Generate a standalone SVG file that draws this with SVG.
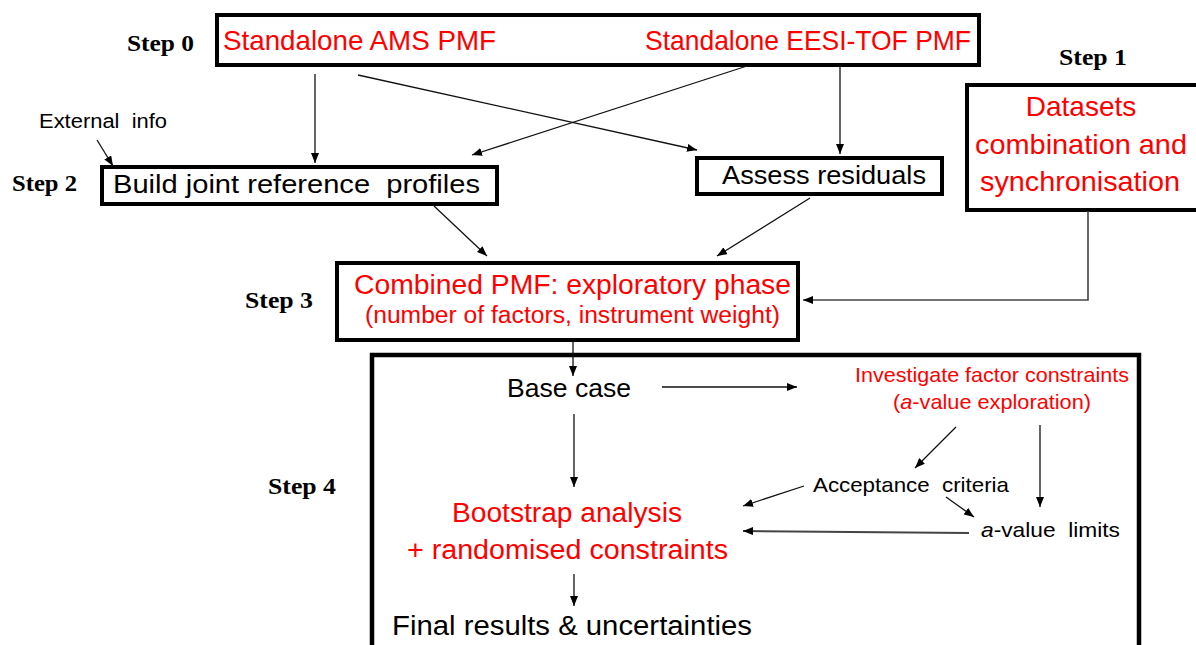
<svg xmlns="http://www.w3.org/2000/svg" width="1196" height="645" viewBox="0 0 1196 645">
<style>
.box{fill:#fff;stroke:#000;stroke-width:4}
.step{font-family:"Liberation Serif",serif;font-weight:bold;font-size:24px;fill:#000}
.t{font-family:"Liberation Sans",Arial,sans-serif;fill:#000}
.r{fill:#ff0000}
.c{fill:none;stroke:#111;stroke-width:1.3}
</style>
<defs>
<marker id="ah" viewBox="0 0 10 8" refX="10" refY="4" markerWidth="10" markerHeight="8" markerUnits="userSpaceOnUse" orient="auto">
<path d="M0,0 L10,4 L0,8 z" fill="#000"/>
</marker>
</defs>
<rect width="1196" height="645" fill="#fff"/>

<g id="step-labels">
<text class="step" x="127" y="51" textLength="67" lengthAdjust="spacingAndGlyphs">Step 0</text>
<text class="step" x="1059" y="65" textLength="68" lengthAdjust="spacingAndGlyphs">Step 1</text>
<text class="step" x="12" y="191" textLength="65" lengthAdjust="spacingAndGlyphs">Step 2</text>
<text class="step" x="245" y="308" textLength="68" lengthAdjust="spacingAndGlyphs">Step 3</text>
<text class="step" x="268" y="494" textLength="68" lengthAdjust="spacingAndGlyphs">Step 4</text>
</g>

<g id="standalone">
<rect class="box" x="217" y="15" width="762" height="50"/>
<text class="t r" x="223" y="50" font-size="28" textLength="273" lengthAdjust="spacingAndGlyphs">Standalone AMS PMF</text>
<text class="t r" x="645" y="50" font-size="28" textLength="326" lengthAdjust="spacingAndGlyphs">Standalone EESI-TOF PMF</text>
</g>

<g id="datasets">
<rect class="box" x="967" y="85" width="240" height="125"/>
<text class="t r" x="1081" y="116" font-size="28" text-anchor="middle">Datasets</text>
<text class="t r" x="1081" y="154" font-size="28" text-anchor="middle" textLength="212" lengthAdjust="spacingAndGlyphs">combination and</text>
<text class="t r" x="1080" y="191" font-size="28" text-anchor="middle" textLength="200" lengthAdjust="spacingAndGlyphs">synchronisation</text>
</g>

<g id="external-info">
<text class="t" x="39" y="128" font-size="20" textLength="128" lengthAdjust="spacingAndGlyphs" xml:space="preserve">External  info</text>
</g>

<g id="build-profiles">
<rect class="box" x="102" y="167" width="395" height="37" stroke-width="3.5"/>
<text class="t" x="113" y="193" font-size="26" textLength="367" lengthAdjust="spacingAndGlyphs" xml:space="preserve">Build joint reference  profiles</text>
</g>

<g id="assess-residuals">
<rect class="box" x="697" y="158" width="245" height="36" stroke-width="3.5"/>
<text class="t" x="722" y="184" font-size="26" textLength="204" lengthAdjust="spacingAndGlyphs">Assess residuals</text>
</g>

<g id="combined-pmf">
<rect class="box" x="337" y="263" width="461" height="77"/>
<text class="t r" x="354" y="294" font-size="27" textLength="437" lengthAdjust="spacingAndGlyphs">Combined PMF: exploratory phase</text>
<text class="t r" x="365" y="323" font-size="23" textLength="415" lengthAdjust="spacingAndGlyphs">(number of factors, instrument weight)</text>
</g>

<g id="step4-frame">
<rect x="372" y="355" width="767" height="310" fill="none" stroke="#000" stroke-width="4.5"/>
</g>

<g id="base-case">
<text class="t" x="507" y="397" font-size="26" textLength="124" lengthAdjust="spacingAndGlyphs">Base case</text>
</g>

<g id="investigate">
<text class="t r" x="855" y="382" font-size="21" textLength="274" lengthAdjust="spacingAndGlyphs">Investigate factor constraints</text>
<text class="t r" x="893" y="409" font-size="21" textLength="198" lengthAdjust="spacingAndGlyphs">(<tspan font-style="italic">a</tspan>-value exploration)</text>
</g>

<g id="acceptance">
<text class="t" x="813" y="492" font-size="21" textLength="196" lengthAdjust="spacingAndGlyphs" xml:space="preserve">Acceptance  criteria</text>
</g>

<g id="a-limits">
<text class="t" x="981" y="537" font-size="21" textLength="139" lengthAdjust="spacingAndGlyphs" xml:space="preserve"><tspan font-style="italic">a</tspan>-value  limits</text>
</g>

<g id="bootstrap">
<text class="t r" x="452" y="522" font-size="27" textLength="230" lengthAdjust="spacingAndGlyphs">Bootstrap analysis</text>
<text class="t r" x="407" y="559" font-size="27" textLength="321" lengthAdjust="spacingAndGlyphs">+ randomised constraints</text>
</g>

<g id="final-results">
<text class="t" x="392" y="635" font-size="27" textLength="360" lengthAdjust="spacingAndGlyphs">Final results &amp; uncertainties</text>
</g>

<g id="connectors">
<line class="c" x1="97" y1="140" x2="113" y2="166" marker-end="url(#ah)"/>
<line class="c" x1="315" y1="74" x2="315" y2="163" marker-end="url(#ah)"/>
<line class="c" x1="358" y1="75" x2="697" y2="150" marker-end="url(#ah)"/>
<line class="c" x1="747" y1="66" x2="472" y2="155" marker-end="url(#ah)"/>
<line class="c" x1="840" y1="67" x2="840" y2="154" marker-end="url(#ah)"/>
<line class="c" x1="434" y1="206" x2="487" y2="256" marker-end="url(#ah)"/>
<line class="c" x1="810" y1="198" x2="717" y2="256" marker-end="url(#ah)"/>
<path d="M1088,211 V300 H803" fill="none" stroke="#444" stroke-width="1.6" marker-end="url(#ah)"/>
<line class="c" x1="573" y1="341" x2="573" y2="376" marker-end="url(#ah)"/>
<line class="c" x1="662" y1="387" x2="797" y2="387" marker-end="url(#ah)"/>
<line class="c" x1="574" y1="414" x2="574" y2="487" marker-end="url(#ah)"/>
<line class="c" x1="956" y1="427" x2="915" y2="468" marker-end="url(#ah)"/>
<line class="c" x1="1040" y1="425" x2="1040" y2="507" marker-end="url(#ah)"/>
<line class="c" x1="804" y1="486" x2="743" y2="506" marker-end="url(#ah)"/>
<line class="c" x1="946" y1="497" x2="974" y2="517" marker-end="url(#ah)"/>
<line x1="969" y1="533" x2="743" y2="531" stroke="#444" stroke-width="2" marker-end="url(#ah)"/>
<line class="c" x1="574" y1="574" x2="574" y2="606" marker-end="url(#ah)"/>
</g>
</svg>
